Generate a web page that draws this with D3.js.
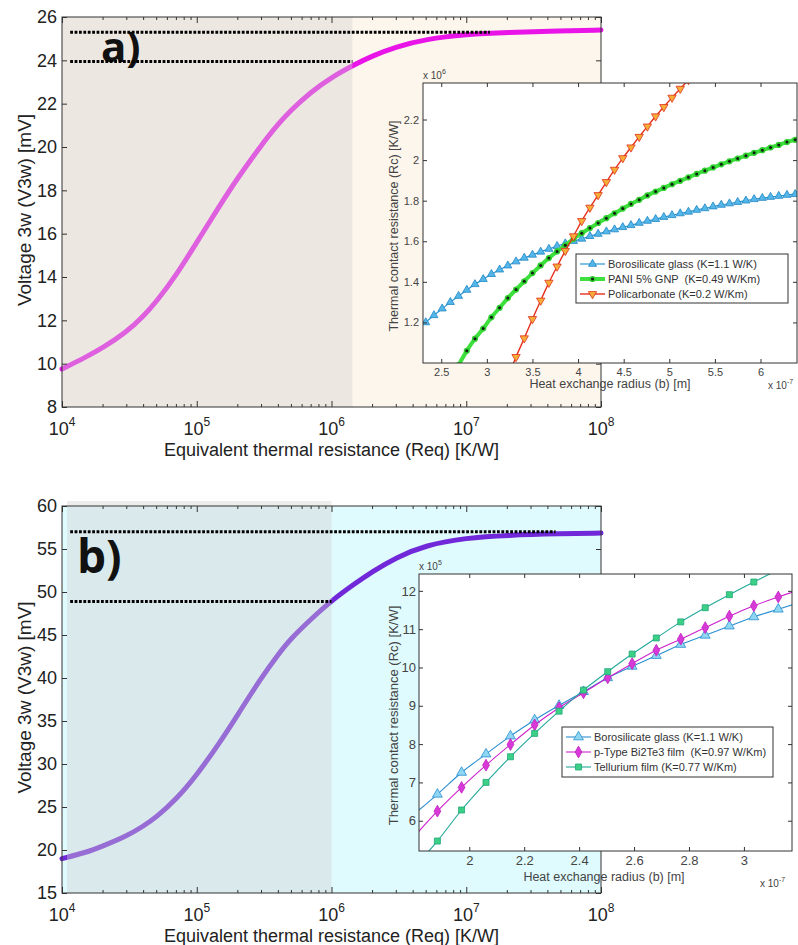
<!DOCTYPE html>
<html>
<head>
<meta charset="utf-8">
<script src="https://cdn.jsdelivr.net/npm/d3@7"></script>
<style>
    body { margin: 0; background: #fff; }
    svg text { font-family: "Liberation Sans", Arial, sans-serif; }
</style>
</head>
<body>
<div id="chart-area"></div>
<script>
// Main curves: equivalent thermal resistance [K/W] vs V3w [mV]
const reqValues = [1e4, 1.5e4, 2e4, 3e4, 4e4, 5e4, 7e4, 1e5, 1.5e5, 2e5, 3e5, 4e5, 5e5, 7e5,
    1e6, 1.5e6, 2e6, 3e6, 5e6, 1e7, 2e7, 5e7, 1e8];
const voltageA = [9.75, 10.30, 10.72, 11.45, 12.17, 12.85, 14.05, 15.6, 17.35, 18.55, 20.07, 21.05, 21.7, 22.53,
    23.22, 23.82, 24.2, 24.62, 24.98, 25.2, 25.29, 25.35, 25.4];
const voltageB = [19.0, 19.7, 20.45, 21.6, 22.75, 23.8, 25.85, 28.7, 32.6, 35.65, 40.0, 42.7, 44.6, 46.8,
    49.0, 51.0, 52.35, 54.0, 55.45, 56.3, 56.6, 56.78, 56.85];
const yTicksA = [8, 10, 12, 14, 16, 18, 20, 22, 24, 26];
const yTicksB = [15, 20, 25, 30, 35, 40, 45, 50, 55, 60];
const decadeTicks = [1e4, 1e5, 1e6, 1e7, 1e8];
const decadeLabels = ["4", "5", "6", "7", "8"];

// dotted guide levels [mV] and where they stop [K/W]
const guideStart = 1.15e4;
const guideLevelsA = [25.3, 23.95];
const guideEndsA = [1.5e7, 1.43e6];
const guideLevelsB = [57.0, 48.9];
const guideEndsB = [4.6e7, 1e6];
const shadeEndA = 1.43e6;
const shadeEndB = 1e6;

// Inset a: radius [x1e-7 m], contact resistance [x1e6 K/W]
const radiusA = [2.33, 2.42, 2.51, 2.60, 2.69, 2.78, 2.87, 2.96, 3.05, 3.14, 3.23, 3.32, 3.41, 3.50, 3.59,
    3.68, 3.77, 3.86, 3.95, 4.04, 4.13, 4.22, 4.31, 4.40, 4.49, 4.58, 4.67, 4.76, 4.85, 4.94, 5.03,
    5.12, 5.21, 5.30, 5.39, 5.48, 5.57, 5.66, 5.75, 5.84, 5.93, 6.02, 6.11, 6.20, 6.29, 6.38];
const borosilicateA = [1.200, 1.235, 1.268, 1.300, 1.330, 1.360, 1.388, 1.413, 1.438, 1.460, 1.480, 1.500,
    1.518, 1.533, 1.548, 1.562, 1.576, 1.589, 1.601, 1.612, 1.625, 1.636, 1.648, 1.658, 1.669, 1.679,
    1.690, 1.700, 1.709, 1.719, 1.728, 1.737, 1.745, 1.754, 1.762, 1.771, 1.779, 1.786, 1.793, 1.800,
    1.807, 1.813, 1.818, 1.823, 1.828, 1.832];
const paniA = [null, null, null, null, 0.99, 1.06, 1.12, 1.17, 1.225, 1.272, 1.32, 1.362, 1.403, 1.443,
    1.481, 1.517, 1.55, 1.58, 1.612, 1.64, 1.665, 1.69, 1.714, 1.738, 1.761, 1.784, 1.804, 1.826, 1.845,
    1.863, 1.881, 1.898, 1.915, 1.932, 1.948, 1.964, 1.979, 1.994, 2.008, 2.022, 2.036, 2.049, 2.062,
    2.075, 2.089, 2.10];
const policarbonateA = [null, null, null, null, null, null, null, null, null, null, 0.93, 1.03, 1.122,
    1.217, 1.308, 1.396, 1.476, 1.553, 1.625, 1.70, 1.766, 1.828, 1.892, 1.953, 2.01, 2.063, 2.115, 2.166,
    2.216, 2.262, 2.308, 2.352, 2.395, null, null, null, null, null, null, null, null, null, null, null,
    null, null];
const insetTicksAX = [2.5, 3, 3.5, 4, 4.5, 5, 5.5, 6];
const insetTicksAY = [1.2, 1.4, 1.6, 1.8, 2, 2.2];
const legendA = ["Borosilicate glass (K=1.1 W/K)", "PANI 5% GNP  (K=0.49 W/Km)", "Policarbonate (K=0.2 W/Km)"];

// Inset b: radius [x1e-7 m], contact resistance [x1e5 K/W]
const radiusB = [1.795, 1.884, 1.972, 2.061, 2.150, 2.238, 2.327, 2.416, 2.504, 2.593, 2.681, 2.770,
    2.859, 2.947, 3.036, 3.125, 3.213];
const borosilicateB = [6.15, 6.69, 7.26, 7.74, 8.21, 8.63, 9.01, 9.37, 9.73, 10.03, 10.31, 10.60, 10.84,
    11.08, 11.32, 11.52, 11.72];
const bi2te3B = [5.55, 6.25, 6.87, 7.45, 7.99, 8.50, 8.95, 9.34, 9.73, 10.10, 10.45, 10.74, 11.04, 11.34,
    11.61, 11.84, 12.05];
const telluriumB = [4.75, 5.47, 6.28, 7.00, 7.67, 8.28, 8.86, 9.41, 9.89, 10.35, 10.77, 11.19, 11.56,
    11.90, 12.23, 12.55, 12.85];
const insetTicksBX = [2, 2.2, 2.4, 2.6, 2.8, 3];
const insetTicksBY = [6, 7, 8, 9, 10, 11, 12];
const legendB = ["Borosilicate glass (K=1.1 W/K)", "p-Type Bi2Te3 film  (K=0.97 W/Km)", "Tellurium film (K=0.77 W/Km)"];

const width = 798;
const height = 945;

const svg = d3.select("#chart-area")
    .append("svg")
    .attr("width", width)
    .attr("height", height)
    .style("display", "block");

svg.append("rect").attr("width", width).attr("height", height).attr("fill", "#fff");

// small helper: append an axis used only for its tick marks / labels
function addAxis(g, axis, transform) {
    const a = g.append("g").attr("transform", transform).call(axis);
    a.select(".domain").remove();
    a.selectAll(".tick line").attr("stroke", "#333");
    return a;
}

function drawMain(cfg) {
    const x = d3.scaleLog().domain([1e4, 1e8]).range([62, 601]);
    const y = d3.scaleLinear().domain(cfg.yDomain).range([cfg.bottom, cfg.top]);
    const x0 = x.range()[0], x1 = x.range()[1];
    const g = svg.append("g");

    // plot background
    g.append("rect")
        .attr("x", x0).attr("y", cfg.top)
        .attr("width", x1 - x0).attr("height", cfg.bottom - cfg.top)
        .attr("fill", cfg.bg);

    // V3w curve (basis spline to keep it smooth between read points)
    const points = reqValues.map((r, i) => [r, cfg.values[i]]);
    g.append("path")
        .datum(points)
        .attr("d", d3.line().x(d => x(d[0])).y(d => y(d[1])).curve(d3.curveBasis))
        .attr("fill", "none")
        .attr("stroke", cfg.color)
        .attr("stroke-width", 5)
        .attr("stroke-linecap", "round");

    // translucent gray band over the low-resistance part
    g.append("rect")
        .attr("x", x0 + cfg.shadeShift)
        .attr("y", cfg.top - cfg.shadeLift)
        .attr("width", x(cfg.shadeEnd) - x0 - cfg.shadeShift)
        .attr("height", cfg.bottom - cfg.top + cfg.shadeLift)
        .attr("fill", "#d1d1d1")
        .attr("fill-opacity", 0.4);

    // ticks on all four sides, pointing inwards
    const minor = x.ticks().filter(t => !decadeTicks.includes(t));
    addAxis(g, d3.axisBottom(x).tickValues(decadeTicks).tickSize(-6).tickFormat(""), `translate(0,${cfg.bottom})`);
    addAxis(g, d3.axisBottom(x).tickValues(minor).tickSize(-3).tickFormat(""), `translate(0,${cfg.bottom})`);
    addAxis(g, d3.axisTop(x).tickValues(decadeTicks).tickSize(-6).tickFormat(""), `translate(0,${cfg.top})`);
    addAxis(g, d3.axisTop(x).tickValues(minor).tickSize(-3).tickFormat(""), `translate(0,${cfg.top})`);
    addAxis(g, d3.axisRight(y).tickValues(cfg.yTicks).tickSize(-5).tickFormat(""), `translate(${x1},0)`);
    const left = addAxis(g, d3.axisLeft(y).tickValues(cfg.yTicks).tickSize(-5).tickPadding(5), `translate(${x0},0)`);
    left.selectAll("text")
        .style("font-family", '"Liberation Sans", Arial, sans-serif')
        .style("font-size", "18px")
        .attr("fill", "#222");

    // 10^n labels
    g.selectAll(".decade-label")
        .data(decadeTicks)
        .enter()
        .append("text")
        .attr("class", "decade-label")
        .attr("x", d => x(d))
        .attr("y", cfg.bottom + 28)
        .attr("text-anchor", "middle")
        .style("font-size", "18px")
        .attr("fill", "#222")
        .each(function(d, i) {
            const t = d3.select(this);
            t.append("tspan").text("10");
            t.append("tspan").attr("dy", -9).style("font-size", "12px").text(decadeLabels[i]);
        });

    // frame
    g.append("rect")
        .attr("x", x0).attr("y", cfg.top)
        .attr("width", x1 - x0).attr("height", cfg.bottom - cfg.top)
        .attr("fill", "none")
        .attr("stroke", "#333");

    // axis titles
    g.append("text")
        .attr("x", (x0 + x1) / 2)
        .attr("y", cfg.bottom + 49)
        .attr("text-anchor", "middle")
        .style("font-size", "18px")
        .attr("fill", "#222")
        .text("Equivalent thermal resistance (Req) [K/W]");

    g.append("text")
        .attr("transform", `translate(31,${(cfg.top + cfg.bottom) / 2 - 2}) rotate(-90)`)
        .attr("text-anchor", "middle")
        .style("font-size", "19px")
        .attr("fill", "#222")
        .text("Voltage 3w (V3w) [mV]");

    // panel letter
    g.append("text")
        .attr("x", cfg.labelX)
        .attr("y", cfg.labelY)
        .style("font-family", '"Open Sans", "DejaVu Sans", sans-serif')
        .style("font-weight", "700")
        .style("font-size", cfg.labelSize + "px")
        .attr("fill", "#111")
        .text(cfg.label);

    // dotted guide lines
    g.selectAll(".guide")
        .data(cfg.guideLevels)
        .enter()
        .append("line")
        .attr("class", "guide")
        .attr("x1", x(guideStart))
        .attr("x2", (d, i) => x(cfg.guideEnds[i]))
        .attr("y1", d => y(d))
        .attr("y2", d => y(d))
        .attr("stroke", "#000")
        .attr("stroke-width", 3)
        .attr("stroke-dasharray", "2.8 1.6");
}

// marker painters for the insets
function drawMarkers(g, pts, x, y, m) {
    if (m.type === "dot") {
        g.selectAll(null).data(pts).enter().append("circle")
            .attr("cx", d => x(d[0])).attr("cy", d => y(d[1])).attr("r", 3.1)
            .attr("fill", m.fill);
        g.selectAll(null).data(pts).enter().append("circle")
            .attr("cx", d => x(d[0])).attr("cy", d => y(d[1])).attr("r", 1.5)
            .attr("fill", "#102010");
        return;
    }
    g.selectAll(null).data(pts).enter().append("path")
        .attr("d", d3.symbol().type(m.type).size(m.size))
        .attr("transform", d => `translate(${x(d[0])},${y(d[1])}) rotate(${m.rotate || 0})`)
        .attr("fill", m.fill)
        .attr("stroke", m.stroke)
        .attr("stroke-width", 0.8);
}

function drawInset(cfg) {
    const x = d3.scaleLinear().domain(cfg.xDomain).range([cfg.left, cfg.right]);
    const y = d3.scaleLinear().domain(cfg.yDomain).range([cfg.bottom, cfg.top]);
    const w = cfg.right - cfg.left, h = cfg.bottom - cfg.top;
    const g = svg.append("g");

    g.append("rect")
        .attr("x", cfg.left).attr("y", cfg.top).attr("width", w).attr("height", h)
        .attr("fill", "#fff");

    svg.append("clipPath").attr("id", cfg.id)
        .append("rect").attr("x", cfg.left).attr("y", cfg.top).attr("width", w).attr("height", h);

    const plot = g.append("g").attr("clip-path", `url(#${cfg.id})`);
    cfg.series.forEach(s => {
        const pts = cfg.radius.map((r, i) => [r, s.values[i]]).filter(d => d[1] != null);
        plot.append("path")
            .datum(pts)
            .attr("d", d3.line().x(d => x(d[0])).y(d => y(d[1])).curve(d3.curveMonotoneX))
            .attr("fill", "none")
            .attr("stroke", s.color)
            .attr("stroke-width", s.width);
        drawMarkers(plot, pts, x, y, s.marker);
    });

    // ticks
    const fontCss = '"Liberation Sans", Arial, sans-serif';
    const bx = addAxis(g, d3.axisBottom(x).tickValues(cfg.xTicks).tickSize(-4).tickPadding(5).tickFormat(d => d),
        `translate(0,${cfg.bottom})`);
    addAxis(g, d3.axisTop(x).tickValues(cfg.xTicks).tickSize(-4).tickFormat(""), `translate(0,${cfg.top})`);
    const ly = addAxis(g, d3.axisLeft(y).tickValues(cfg.yTicks).tickSize(-4).tickPadding(cfg.yPad).tickFormat(d => d),
        `translate(${cfg.left},0)`);
    addAxis(g, d3.axisRight(y).tickValues(cfg.yTicks).tickSize(-4).tickFormat(""), `translate(${cfg.right},0)`);
    [bx, ly].forEach(a => a.selectAll("text")
        .style("font-family", fontCss)
        .style("font-size", cfg.tickFont + "px")
        .attr("fill", "#444"));

    g.append("rect")
        .attr("x", cfg.left).attr("y", cfg.top).attr("width", w).attr("height", h)
        .attr("fill", "none").attr("stroke", "#333");

    // axis titles and scale factors
    g.append("text")
        .attr("x", cfg.xLabelX).attr("y", cfg.bottom + cfg.xLabelDy)
        .attr("text-anchor", "middle")
        .style("font-size", "12.5px").attr("fill", "#444")
        .text("Heat exchange radius (b) [m]");

    g.append("text")
        .attr("transform", `translate(${cfg.left - cfg.yLabelDx},${(cfg.top + cfg.bottom) / 2 + 3}) rotate(-90)`)
        .attr("text-anchor", "middle")
        .style("font-size", cfg.yLabelFont + "px").attr("fill", "#444")
        .text("Thermal contact resistance (Rc) [K/W]");

    const yExp = g.append("text")
        .attr("x", cfg.left).attr("y", cfg.top - 4)
        .style("font-size", "10px").attr("fill", "#444");
    yExp.append("tspan").text("x 10");
    yExp.append("tspan").attr("dy", -5).style("font-size", "7px").text(cfg.yExp);

    const xExp = g.append("text")
        .attr("x", cfg.xExpX).attr("y", cfg.xExpY)
        .style("font-size", "10px").attr("fill", "#444");
    xExp.append("tspan").text("x 10");
    xExp.append("tspan").attr("dy", -5).style("font-size", "7px").text("-7");

    // legend
    const lg = g.append("g").attr("transform", `translate(${cfg.legend.x},${cfg.legend.y})`);
    lg.append("rect")
        .attr("width", cfg.legend.w).attr("height", cfg.legend.h)
        .attr("fill", "#fff").attr("stroke", "#333");
    cfg.series.forEach((s, i) => {
        const cy = 10 + i * 15;
        lg.append("line")
            .attr("x1", 4).attr("x2", 29).attr("y1", cy).attr("y2", cy)
            .attr("stroke", s.color).attr("stroke-width", s.width);
        drawMarkers(lg, [[16.5, cy]], d => d, d => d, s.marker);
        lg.append("text")
            .attr("x", 32).attr("y", cy + 4)
            .style("font-size", "11px")
            .style("white-space", "pre")
            .attr("fill", "#333")
            .text(cfg.legendLabels[i]);
    });
}

// Panel a)
drawMain({
    top: 17, bottom: 407,
    yDomain: [8, 26], yTicks: yTicksA,
    values: voltageA, color: "#e814e8", bg: "#fdf6ec",
    shadeEnd: shadeEndA, shadeShift: 0, shadeLift: 0,
    guideLevels: guideLevelsA, guideEnds: guideEndsA,
    label: "a)", labelX: 101, labelY: 62, labelSize: 42
});

drawInset({
    id: "clip-a",
    left: 423, right: 797, top: 83, bottom: 363,
    xDomain: [2.3, 6.4], yDomain: [1.0, 2.38],
    xTicks: insetTicksAX, yTicks: insetTicksAY,
    radius: radiusA, yPad: 4, tickFont: 11,
    xLabelX: 610, xLabelDy: 25, yLabelDx: 25, yLabelFont: 12.5,
    yExp: "6", xExpX: 768, xExpY: 389,
    legend: { x: 576, y: 254, w: 212, h: 49 },
    legendLabels: legendA,
    series: [
        { values: borosilicateA, color: "#2a96d4", width: 1.2,
          marker: { type: d3.symbolTriangle, size: 28, fill: "#55b6e8", stroke: "#1f86c6" } },
        { values: paniA, color: "#3ee03e", width: 4,
          marker: { type: "dot", fill: "#2fcf2f" } },
        { values: policarbonateA, color: "#e5301c", width: 1.4,
          marker: { type: d3.symbolTriangle, size: 30, fill: "#f6ad38", stroke: "#e0301c", rotate: 180 } }
    ]
});

// Panel b)
drawMain({
    top: 506, bottom: 893,
    yDomain: [15, 60], yTicks: yTicksB,
    values: voltageB, color: "#7028d8", bg: "#dffbfd",
    shadeEnd: shadeEndB, shadeShift: 5, shadeLift: 5,
    guideLevels: guideLevelsB, guideEnds: guideEndsB,
    label: "b)", labelX: 77, labelY: 573, labelSize: 46
});

drawInset({
    id: "clip-b",
    left: 419, right: 792, top: 574, bottom: 851,
    xDomain: [1.817, 3.175], yDomain: [5.21, 12.44],
    xTicks: insetTicksBX, yTicks: insetTicksBY,
    radius: radiusB, yPad: 3, tickFont: 13,
    xLabelX: 604, xLabelDy: 30, yLabelDx: 21, yLabelFont: 13,
    yExp: "5", xExpX: 760, xExpY: 887,
    legend: { x: 562, y: 727, w: 211, h: 50 },
    legendLabels: legendB,
    series: [
        { values: borosilicateB, color: "#2a8fd0", width: 1.1,
          marker: { type: d3.symbolTriangle, size: 42, fill: "#8fd6f2", stroke: "#2a8fd0" } },
        { values: bi2te3B, color: "#cc22cc", width: 1.1,
          marker: { type: d3.symbolDiamond, size: 40, fill: "#d83ad8", stroke: "#c020c0" } },
        { values: telluriumB, color: "#22a89a", width: 1.1,
          marker: { type: d3.symbolSquare, size: 36, fill: "#3ccf86", stroke: "#20a878" } }
    ]
});
</script>
</body>
</html>
